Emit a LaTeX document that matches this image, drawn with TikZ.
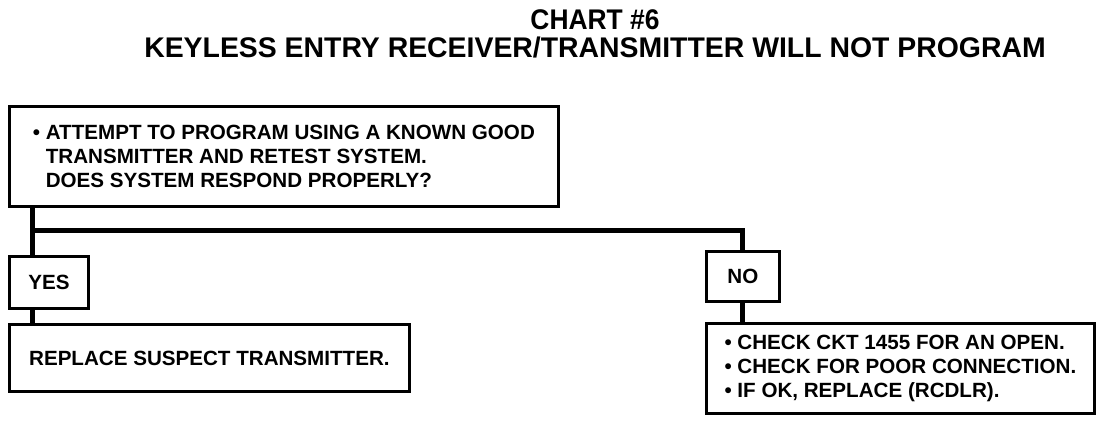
\documentclass[tikz,border=0pt]{standalone}
\usepackage{fontspec}
\setmainfont{Liberation Sans}

\begin{document}
\begin{tikzpicture}[x=0.5pt,y=-0.5pt,
  box/.style={draw, line width=1.4pt, anchor=north west, align=left, inner sep=0pt,
    font=\fontsize{10.3}{12.2}\selectfont\bfseries},
  conn/.style={line width=2.5pt},
  titolo/.style={font=\fontsize{14.2}{16}\selectfont\bfseries}]

\useasboundingbox (0,0) rectangle (1120,420);

% Titolo
\node[titolo, xscale=0.93] (titolo) at (595,20) {CHART \#6};
\node[titolo] (sottotitolo) at (595,47) {KEYLESS ENTRY RECEIVER/TRANSMITTER WILL NOT PROGRAM};

% Riquadri
\node[box, minimum width=274.5pt, minimum height=50pt] (prova) at (8,105)
  {\textbullet\ ATTEMPT TO PROGRAM USING A KNOWN GOOD\\
   \phantom{\textbullet\ }TRANSMITTER AND RETEST SYSTEM.\\
   \phantom{\textbullet\ }DOES SYSTEM RESPOND PROPERLY?};
\node[box, minimum width=39.5pt, minimum height=26pt] (si) at (8,255) {YES};
\node[box, minimum width=200pt, minimum height=33.5pt] (sostituisci) at (8,323)
  {REPLACE SUSPECT TRANSMITTER.};
\node[box, minimum width=36.5pt, minimum height=25pt] (no) at (705,250) {NO};
\node[box, minimum width=194pt, minimum height=45pt] (verifica) at (705,322)
  {\textbullet\ CHECK CKT 1455 FOR AN OPEN.\\
   \textbullet\ CHECK FOR POOR CONNECTION.\\
   \textbullet\ IF OK, REPLACE (RCDLR).};

% Collegamenti
\coordinate (bivio) at (32,230);
\draw[conn] (prova.south -| bivio) -- (si.north -| bivio);
\draw[conn] (bivio) -| (no.north);
\draw[conn] (si.south -| bivio) -- (sostituisci.north -| bivio);
\draw[conn] (no.south) -- (verifica.north -| no.south);

\end{tikzpicture}
\end{document}
